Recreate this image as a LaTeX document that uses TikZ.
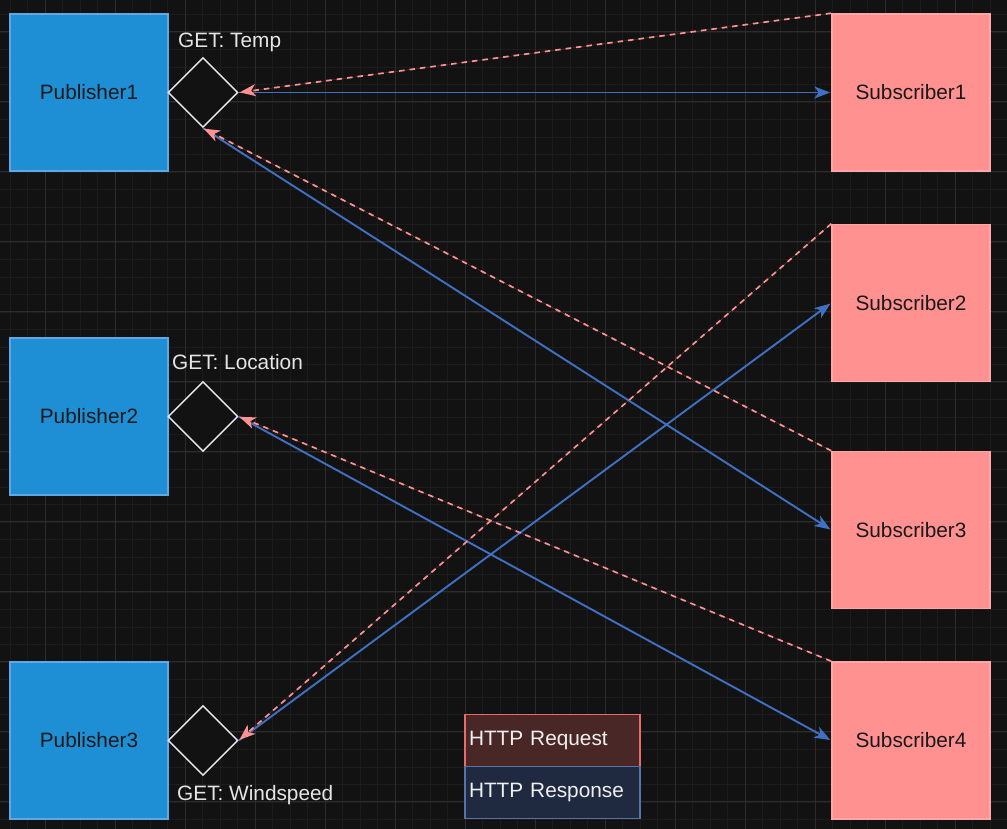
\documentclass[tikz,border=0pt]{standalone}
\usepackage{fontspec}
\setmainfont{Liberation Sans}
\usetikzlibrary{shapes.geometric,arrows.meta,positioning}

\definecolor{bgcol}{HTML}{121212}
\definecolor{minorcol}{HTML}{1C1C1C}
\definecolor{majorcol}{HTML}{2C2C2C}
\definecolor{pubfill}{HTML}{1F8FD5}
\definecolor{publine}{HTML}{62A6E4}
\definecolor{subfill}{HTML}{FF9191}
\definecolor{subline}{HTML}{FFA6A6}
\definecolor{respline}{HTML}{4070C4}
\definecolor{reqfill}{HTML}{4A2727}
\definecolor{reqline}{HTML}{EA6B6B}
\definecolor{legfill}{HTML}{1F293F}
\definecolor{legline}{HTML}{5B72A8}

\begin{document}
\begin{tikzpicture}[x=1pt,y=1pt,node distance=324pt,
    font=\fontsize{20.8}{24}\selectfont,
    pub node/.style={rectangle,draw=publine,fill=pubfill,line width=1.5pt,inner sep=0pt,minimum width=158pt,minimum height=157pt,text=black!90},
    sub node/.style={rectangle,draw=subline,fill=subfill,line width=1.5pt,inner sep=0pt,minimum width=158pt,minimum height=157pt,text=black!90},
    topic node/.style={diamond,draw=white!92!black,fill=bgcol,line width=1.4pt,inner sep=0pt,minimum width=70pt,minimum height=70pt},
    get label/.style={anchor=west,inner sep=0pt,text=white!90!black},
    legend node/.style={rectangle,line width=1.5pt,inner xsep=4pt,inner ysep=0pt,text width=167pt,align=left,minimum height=52pt,text=white!94!black},
    response/.style={-{Stealth[length=16pt,width=12pt,inset=4.5pt]},draw=respline,line width=1.9pt,shorten >=1pt},
    request/.style={-{Stealth[length=16pt,width=12pt,inset=4.5pt]},draw=subfill,fill=subfill,line width=1.7pt,dash pattern=on 5.5pt off 5pt,shorten >=1pt}]

    % canvas and grid
    \fill[bgcol] (0,0) rectangle (1007,829);
    \useasboundingbox (0,0) rectangle (1007,829);
    \foreach \gx in {0,...,57} \draw[minorcol,line width=0.8pt] ({10+17.5*\gx},0) -- ({10+17.5*\gx},829);
    \foreach \gy in {0,...,47} \draw[minorcol,line width=0.8pt] (0,{9.5+17.5*\gy}) -- (1007,{9.5+17.5*\gy});
    \foreach \gx in {0,...,13} \draw[majorcol,line width=1pt] ({45+70*\gx},0) -- ({45+70*\gx},829);
    \foreach \gy in {0,...,11} \draw[majorcol,line width=1pt] (0,{27+70*\gy}) -- (1007,{27+70*\gy});

    % publishers
    \node[pub node] (1) at (89,736.5) {Publisher1};
    \node[pub node] (2) [below of = 1] {Publisher2};
    \node[pub node] (3) [below of = 2] {Publisher3};

    % topics
    \node[topic node] (4) [right of = 1, node distance=114pt] {};
    \node[topic node] (5) [right of = 2, node distance=114pt] {};
    \node[topic node] (6) [right of = 3, node distance=114pt] {};

    \node[get label] (11) at ([xshift=-25pt,yshift=50pt]4.center) {GET: Temp};
    \node[get label] (12) at ([xshift=-31pt,yshift=54pt]5.center) {GET: Location};
    \node[get label] (13) at ([xshift=-26pt,yshift=-55pt]6.center) {GET: Windspeed};

    % subscribers
    \node[sub node] (7) [right of = 1, node distance=822pt] {Subscriber1};
    \node[sub node] (8) at (911,526) {Subscriber2};
    \node[sub node] (9) at (911,299) {Subscriber3};
    \node[sub node] (10) [right of = 3, node distance=822pt] {Subscriber4};

    % legend
    \node[legend node,draw=reqline,fill=reqfill] (14) [right of = 3, node distance=463.5pt] {HTTP Request};
    \node[legend node,draw=legline,fill=legfill] (15) [below of = 14, node distance=52pt] {HTTP Response};

    \path
        (4.east) edge[response] (7.west)
        (4.south) edge[response] (9.west)
        (5.east) edge[response] (10.west)
        (6.east) edge[response] (8.west)
        ;
    \path
        (7.north west) edge[request] (4.east)
        (9.north west) edge[request] (4.south)
        (10.north west) edge[request] (5.east)
        (8.north west) edge[request] (6.east)
        ;
\end{tikzpicture}
\end{document}
